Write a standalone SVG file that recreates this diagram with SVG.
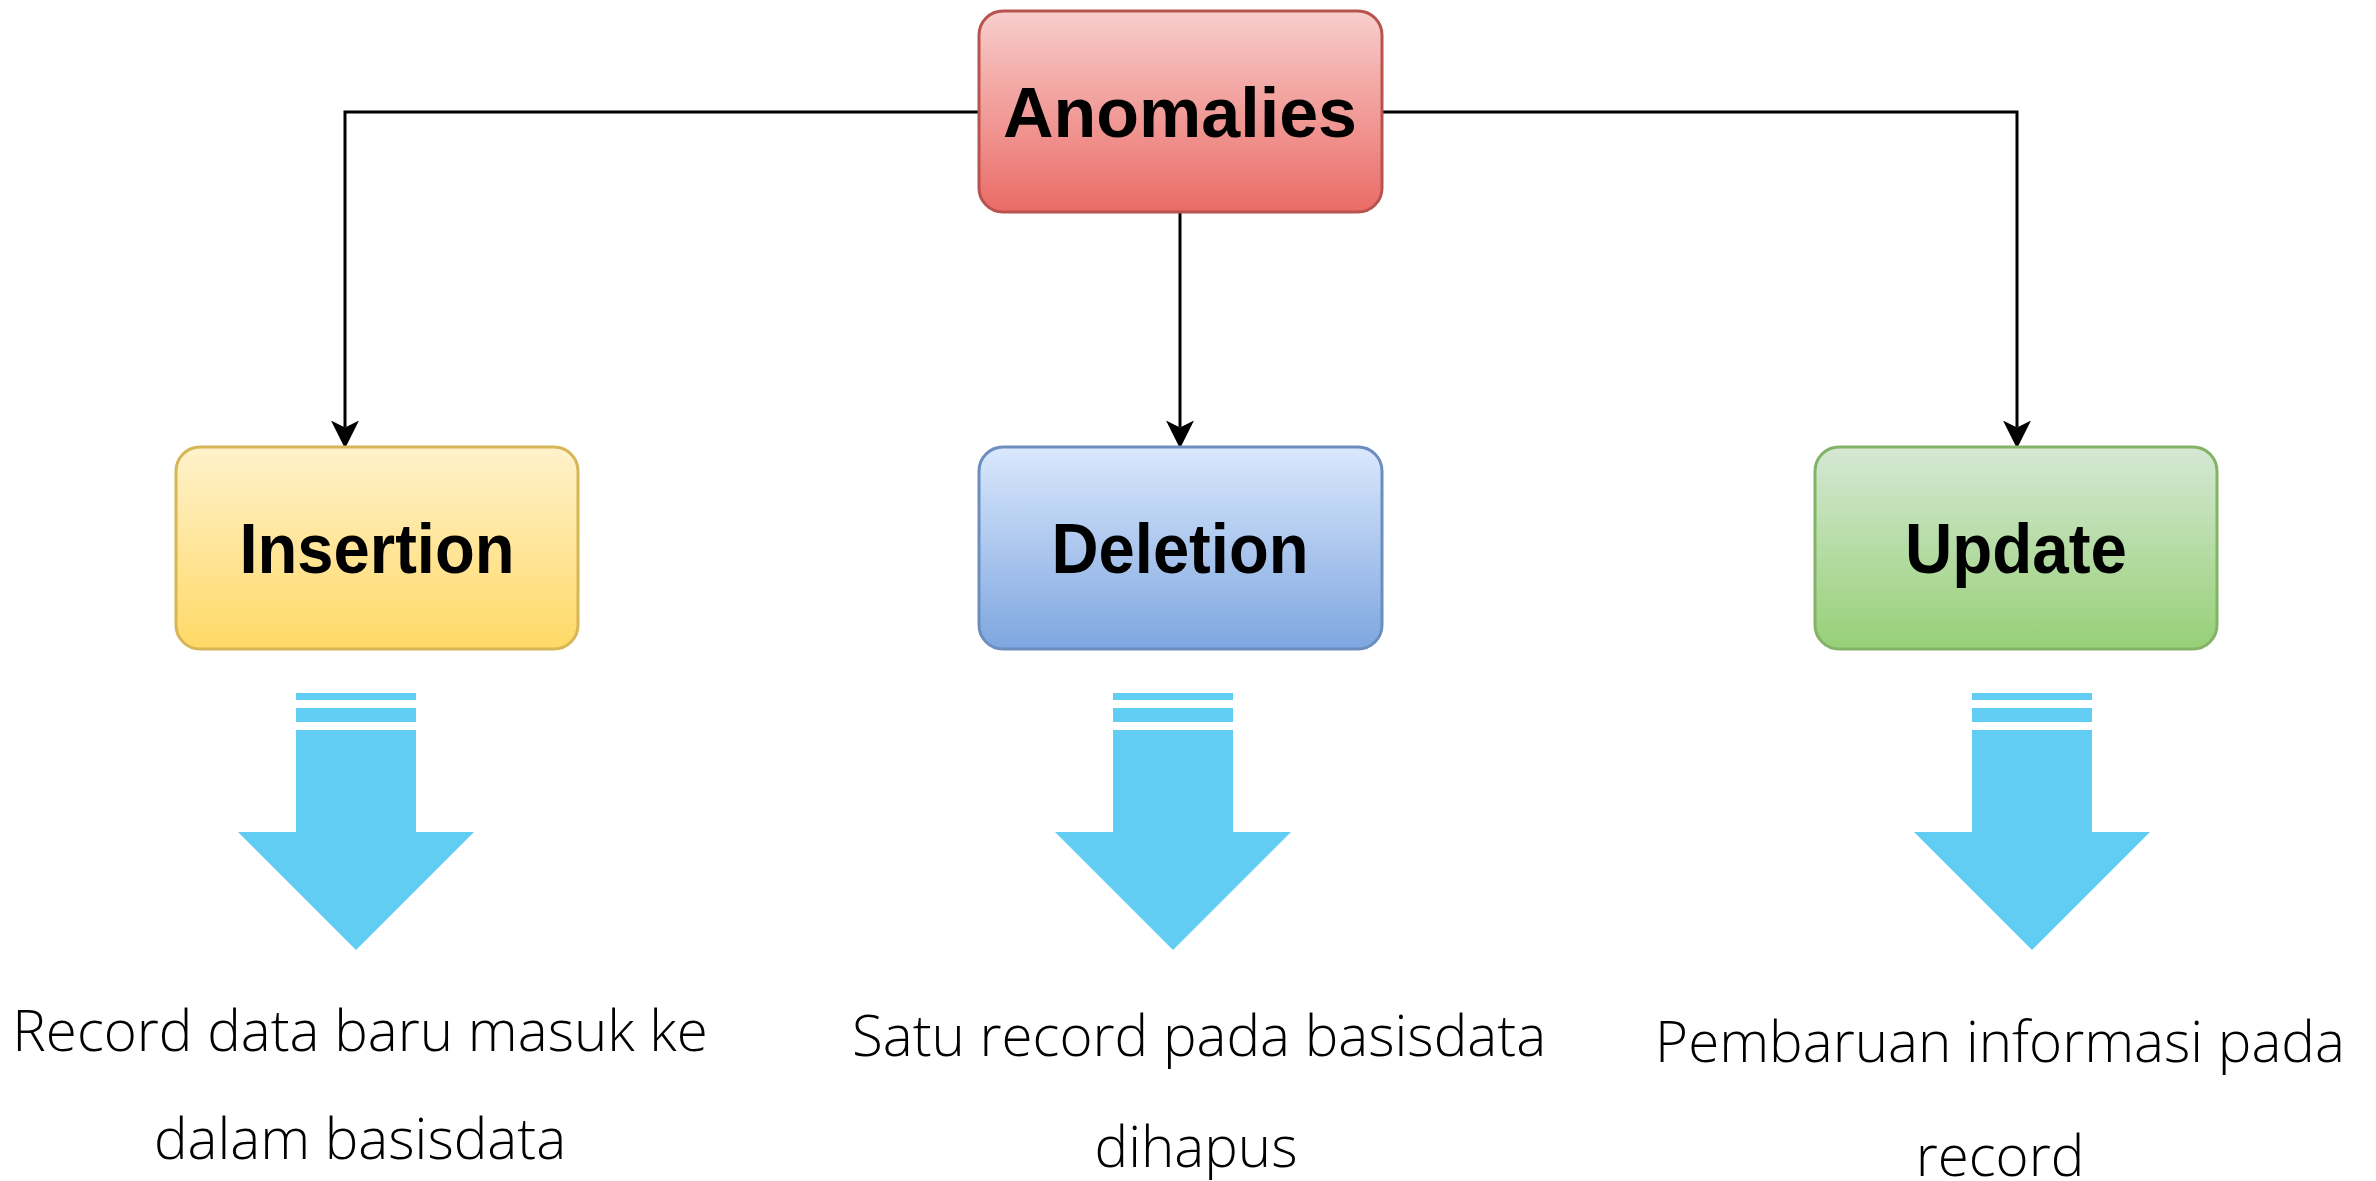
<svg xmlns="http://www.w3.org/2000/svg" xmlns:xlink="http://www.w3.org/1999/xlink" width="2376" height="1181" viewBox="0 0 2376 1181">
  <style>
    .box { stroke-width: 3; }
    .lbl { font-family: "Liberation Sans", Arial, sans-serif; font-weight: bold; font-size: 70px; fill: #000; text-anchor: middle; }
    .desc { font-family: "Open Sans", "Noto Sans", sans-serif; font-weight: 300; font-size: 56.5px; fill: #000; text-anchor: middle; }
    .conn { fill: none; stroke: #000; stroke-width: 3; }
    .big { fill: #62CDF3; }
  </style>
  <defs>
    <linearGradient id="gRed" x1="0" y1="0" x2="0" y2="1">
      <stop offset="0" stop-color="#f8cecc"/>
      <stop offset="1" stop-color="#ea6b66"/>
    </linearGradient>
    <linearGradient id="gYellow" x1="0" y1="0" x2="0" y2="1">
      <stop offset="0" stop-color="#fff2cc"/>
      <stop offset="1" stop-color="#ffd966"/>
    </linearGradient>
    <linearGradient id="gBlue" x1="0" y1="0" x2="0" y2="1">
      <stop offset="0" stop-color="#dae8fc"/>
      <stop offset="1" stop-color="#7ea6e0"/>
    </linearGradient>
    <linearGradient id="gGreen" x1="0" y1="0" x2="0" y2="1">
      <stop offset="0" stop-color="#d5e8d4"/>
      <stop offset="1" stop-color="#97d077"/>
    </linearGradient>
    <marker id="arrow" markerUnits="userSpaceOnUse" markerWidth="28" markerHeight="28" viewBox="0 0 26 26" refX="6.5" refY="13" orient="auto">
      <path d="M0,0 L26,13 L0,26 L6.5,13 Z" fill="#000"/>
    </marker>
    <g id="bigArrow">
      <rect class="big" x="-60" y="693" width="120" height="7"/>
      <rect class="big" x="-60" y="708" width="120" height="14"/>
      <path class="big" d="M-60,730 L60,730 L60,832 L118,832 L0,950 L-118,832 L-60,832 Z"/>
    </g>
  </defs>

  <g id="connectors">
    <path class="conn" d="M979,112 L345,112 L345,427.5" marker-end="url(#arrow)"/>
    <path class="conn" d="M1180,212 L1180,427.5" marker-end="url(#arrow)"/>
    <path class="conn" d="M1382,112 L2017,112 L2017,427.5" marker-end="url(#arrow)"/>
  </g>

  <g id="anomalies">
    <rect class="box" x="979" y="11" width="403" height="201" rx="24" ry="24" fill="url(#gRed)" stroke="#b85450"/>
    <text class="lbl" x="1180" y="137">Anomalies</text>
  </g>

  <g id="insertion">
    <rect class="box" x="176" y="447" width="402" height="202" rx="24" ry="24" fill="url(#gYellow)" stroke="#d6b656"/>
    <text class="lbl" x="377" y="573" textLength="275" lengthAdjust="spacingAndGlyphs">Insertion</text>
  </g>

  <g id="deletion">
    <rect class="box" x="979" y="447" width="403" height="202" rx="24" ry="24" fill="url(#gBlue)" stroke="#6c8ebf"/>
    <text class="lbl" x="1180" y="573" textLength="257" lengthAdjust="spacingAndGlyphs">Deletion</text>
  </g>

  <g id="update">
    <rect class="box" x="1815" y="447" width="402" height="202" rx="24" ry="24" fill="url(#gGreen)" stroke="#82b366"/>
    <text class="lbl" x="2016" y="573" textLength="222" lengthAdjust="spacingAndGlyphs">Update</text>
  </g>

  <g id="insertion-arrow">
    <use xlink:href="#bigArrow" href="#bigArrow" transform="translate(356,0)"/>
  </g>
  <g id="deletion-arrow">
    <use xlink:href="#bigArrow" href="#bigArrow" transform="translate(1173,0)"/>
  </g>
  <g id="update-arrow">
    <use xlink:href="#bigArrow" href="#bigArrow" transform="translate(2032,0)"/>
  </g>

  <g id="insertion-desc">
    <text class="desc" x="360" y="1051">Record data baru masuk ke</text>
    <text class="desc" x="360" y="1159">dalam basisdata</text>
  </g>
  <g id="deletion-desc">
    <text class="desc" x="1199" y="1056">Satu record pada basisdata</text>
    <text class="desc" x="1196" y="1167">dihapus</text>
  </g>
  <g id="update-desc">
    <text class="desc" x="2000" y="1062">Pembaruan informasi pada</text>
    <text class="desc" x="2000" y="1176">record</text>
  </g>
</svg>
